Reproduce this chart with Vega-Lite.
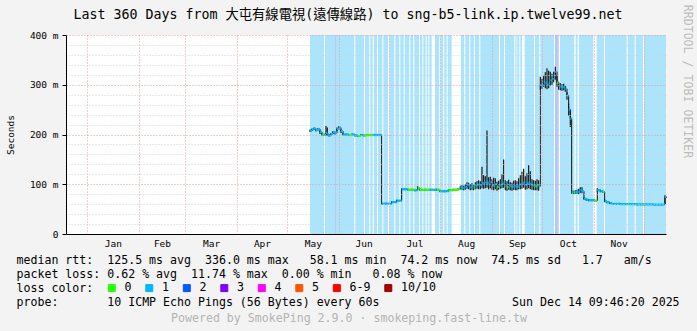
{
  "$schema": "https://vega.github.io/schema/vega-lite/v6.json",
  "autosize": {"type": "none"},
  "padding": {"left": 66, "top": 35, "right": 31, "bottom": 97},
  "width": 600,
  "height": 199,
  "background": "#f3f3f3",
  "title": {
    "text": "Last 360 Days from 大屯有線電視(遠傳線路) to sng-b5-link.ip.twelve99.net",
    "anchor": "middle", "frame": "group", "dx": -18, "dy": 32, "offset": 15,
    "font": "DejaVu Sans Mono, Noto Sans CJK TC", "fontSize": 13.3, "fontWeight": "normal", "color": "#000000"
  },
  "config": {
    "view": {"fill": "white", "stroke": null},
    "font": "DejaVu Sans Mono",
    "axis": {"labelFont": "DejaVu Sans Mono", "titleFont": "DejaVu Sans Mono"}
  },
  "datasets": {
    "lossbars": [
      {"start": 133.8, "end": 142.2, "level": "1"},
      {"start": 142.8, "end": 148.8, "level": "1"},
      {"start": 148.8, "end": 149.4, "level": "2"},
      {"start": 149.4, "end": 160.4, "level": "1"},
      {"start": 161.0, "end": 166.2, "level": "1"},
      {"start": 166.8, "end": 169.4, "level": "1"},
      {"start": 170.0, "end": 171.4, "level": "1"},
      {"start": 172.0, "end": 174.0, "level": "1"},
      {"start": 174.6, "end": 177.2, "level": "1"},
      {"start": 177.8, "end": 180.6, "level": "1"},
      {"start": 181.4, "end": 184.4, "level": "1"},
      {"start": 185.0, "end": 187.4, "level": "1"},
      {"start": 188.0, "end": 190.0, "level": "1"},
      {"start": 190.6, "end": 193.4, "level": "1"},
      {"start": 194.0, "end": 195.8, "level": "1"},
      {"start": 196.4, "end": 199.2, "level": "1"},
      {"start": 199.8, "end": 201.2, "level": "1"},
      {"start": 201.8, "end": 203.2, "level": "1"},
      {"start": 203.8, "end": 204.8, "level": "1"},
      {"start": 205.4, "end": 206.8, "level": "1"},
      {"start": 208.8, "end": 211.4, "level": "1"},
      {"start": 212.0, "end": 213.8, "level": "1"},
      {"start": 214.4, "end": 215.8, "level": "1"},
      {"start": 216.4, "end": 218.8, "level": "1"},
      {"start": 224.4, "end": 226.4, "level": "1"},
      {"start": 227.0, "end": 229.4, "level": "1"},
      {"start": 230.0, "end": 232.2, "level": "1"},
      {"start": 232.8, "end": 235.4, "level": "1"},
      {"start": 236.0, "end": 247.2, "level": "1"},
      {"start": 247.8, "end": 250.2, "level": "1"},
      {"start": 250.8, "end": 256.4, "level": "1"},
      {"start": 257.0, "end": 257.8, "level": "1"},
      {"start": 258.2, "end": 259.4, "level": "1"},
      {"start": 260.0, "end": 261.0, "level": "1"},
      {"start": 262.6, "end": 268.2, "level": "1"},
      {"start": 268.8, "end": 271.4, "level": "1"},
      {"start": 272.0, "end": 280.2, "level": "1"},
      {"start": 280.8, "end": 283.0, "level": "2"},
      {"start": 283.8, "end": 292.4, "level": "1"},
      {"start": 293.2, "end": 294.4, "level": "1"},
      {"start": 295.2, "end": 303.8, "level": "1"},
      {"start": 305.8, "end": 310.2, "level": "1"},
      {"start": 310.8, "end": 323.8, "level": "1"},
      {"start": 324.4, "end": 328.6, "level": "1"},
      {"start": 329.2, "end": 333.6, "level": "1"},
      {"start": 334.2, "end": 347.4, "level": "1"}
    ],
    "rtt": [
      {"d": 133.8, "med": 207, "lo": 205, "hi": 210, "loss": "1"},
      {"d": 135.0, "med": 210, "lo": 207, "hi": 212, "loss": "1"},
      {"d": 136.2, "med": 212, "lo": 209, "hi": 214, "loss": "1"},
      {"d": 137.4, "med": 209, "lo": 206, "hi": 211, "loss": "1"},
      {"d": 138.6, "med": 211, "lo": 208, "hi": 213, "loss": "1"},
      {"d": 139.8, "med": 205, "lo": 201, "hi": 208, "loss": "1"},
      {"d": 141.0, "med": 200, "lo": 197, "hi": 203, "loss": "0"},
      {"d": 142.2, "med": 199, "lo": 197, "hi": 202, "loss": "1"},
      {"d": 143.4, "med": 203, "lo": 199, "hi": 217, "loss": "1"},
      {"d": 144.2, "med": 201, "lo": 197, "hi": 214, "loss": "1"},
      {"d": 145.2, "med": 198, "lo": 196, "hi": 201, "loss": "1"},
      {"d": 146.4, "med": 201, "lo": 198, "hi": 203, "loss": "1"},
      {"d": 147.6, "med": 205, "lo": 202, "hi": 207, "loss": "1"},
      {"d": 148.8, "med": 203, "lo": 200, "hi": 206, "loss": "1"},
      {"d": 150.0, "med": 211, "lo": 207, "hi": 214, "loss": "1"},
      {"d": 151.2, "med": 214, "lo": 209, "hi": 217, "loss": "1"},
      {"d": 152.4, "med": 207, "lo": 203, "hi": 210, "loss": "1"},
      {"d": 153.6, "med": 200, "lo": 198, "hi": 203, "loss": "1"},
      {"d": 155.4, "med": 200, "lo": 198, "hi": 202, "loss": "1"},
      {"d": 157.2, "med": 199, "lo": 197, "hi": 201, "loss": "0"},
      {"d": 159.0, "med": 200, "lo": 198, "hi": 202, "loss": "1"},
      {"d": 160.8, "med": 198, "lo": 196, "hi": 200, "loss": "1"},
      {"d": 162.6, "med": 197, "lo": 195, "hi": 199, "loss": "0"},
      {"d": 164.4, "med": 199, "lo": 197, "hi": 201, "loss": "1"},
      {"d": 166.2, "med": 198, "lo": 196, "hi": 200, "loss": "0"},
      {"d": 168.0, "med": 199, "lo": 197, "hi": 201, "loss": "0"},
      {"d": 169.8, "med": 199, "lo": 197, "hi": 201, "loss": "0"},
      {"d": 171.6, "med": 199, "lo": 197, "hi": 201, "loss": "1"},
      {"d": 173.4, "med": 199, "lo": 197, "hi": 201, "loss": "1"},
      {"d": 176.8, "med": 61, "lo": 59, "hi": 63, "loss": "1"},
      {"d": 179.4, "med": 61, "lo": 59, "hi": 63, "loss": "1"},
      {"d": 182.8, "med": 64, "lo": 62, "hi": 66, "loss": "1"},
      {"d": 185.8, "med": 67, "lo": 65, "hi": 69, "loss": "1"},
      {"d": 188.8, "med": 90, "lo": 88, "hi": 92, "loss": "1"},
      {"d": 190.8, "med": 90, "lo": 88, "hi": 92, "loss": "1"},
      {"d": 192.6, "med": 89, "lo": 87, "hi": 91, "loss": "0"},
      {"d": 195.0, "med": 89, "lo": 87, "hi": 91, "loss": "0"},
      {"d": 196.8, "med": 88, "lo": 86, "hi": 90, "loss": "1"},
      {"d": 198.4, "med": 92, "lo": 89, "hi": 96, "loss": "0"},
      {"d": 199.8, "med": 89, "lo": 87, "hi": 91, "loss": "0"},
      {"d": 202.8, "med": 89, "lo": 87, "hi": 91, "loss": "0"},
      {"d": 205.8, "med": 89, "lo": 87, "hi": 91, "loss": "1"},
      {"d": 209.8, "med": 89, "lo": 87, "hi": 91, "loss": "0"},
      {"d": 211.8, "med": 86, "lo": 84, "hi": 88, "loss": "1"},
      {"d": 214.2, "med": 86, "lo": 84, "hi": 88, "loss": "1"},
      {"d": 216.8, "med": 88, "lo": 86, "hi": 90, "loss": "0"},
      {"d": 219.6, "med": 89, "lo": 87, "hi": 91, "loss": "0"},
      {"d": 222.6, "med": 90, "lo": 88, "hi": 92, "loss": "0"},
      {"d": 224, "med": 94, "lo": 90, "hi": 97, "loss": "1"},
      {"d": 225, "med": 93, "lo": 89, "hi": 98, "loss": "1"},
      {"d": 226, "med": 92, "lo": 88, "hi": 97, "loss": "1"},
      {"d": 227, "med": 95, "lo": 89, "hi": 100, "loss": "1"},
      {"d": 228, "med": 99, "lo": 91, "hi": 104, "loss": "1"},
      {"d": 229, "med": 97, "lo": 90, "hi": 103, "loss": "1"},
      {"d": 230, "med": 94, "lo": 88, "hi": 100, "loss": "1"},
      {"d": 231, "med": 96, "lo": 89, "hi": 102, "loss": "1"},
      {"d": 232, "med": 93, "lo": 88, "hi": 99, "loss": "0"},
      {"d": 233, "med": 97, "lo": 90, "hi": 104, "loss": "1"},
      {"d": 234, "med": 99, "lo": 91, "hi": 106, "loss": "1"},
      {"d": 235, "med": 100, "lo": 90, "hi": 108, "loss": "1"},
      {"d": 236, "med": 98, "lo": 90, "hi": 106, "loss": "1"},
      {"d": 237, "med": 102, "lo": 92, "hi": 135, "loss": "1"},
      {"d": 238, "med": 101, "lo": 91, "hi": 118, "loss": "1"},
      {"d": 239, "med": 104, "lo": 92, "hi": 116, "loss": "1"},
      {"d": 240, "med": 103, "lo": 93, "hi": 208, "loss": "1"},
      {"d": 241, "med": 100, "lo": 90, "hi": 114, "loss": "1"},
      {"d": 242, "med": 104, "lo": 92, "hi": 115, "loss": "1"},
      {"d": 243, "med": 98, "lo": 89, "hi": 110, "loss": "1"},
      {"d": 244, "med": 97, "lo": 88, "hi": 113, "loss": "1"},
      {"d": 245, "med": 100, "lo": 90, "hi": 112, "loss": "1"},
      {"d": 246, "med": 95, "lo": 87, "hi": 105, "loss": "0"},
      {"d": 247, "med": 97, "lo": 89, "hi": 107, "loss": "1"},
      {"d": 248, "med": 99, "lo": 91, "hi": 110, "loss": "1"},
      {"d": 249, "med": 101, "lo": 92, "hi": 120, "loss": "1"},
      {"d": 250, "med": 103, "lo": 93, "hi": 150, "loss": "1"},
      {"d": 251, "med": 96, "lo": 88, "hi": 108, "loss": "1"},
      {"d": 252, "med": 94, "lo": 87, "hi": 106, "loss": "0"},
      {"d": 253, "med": 98, "lo": 89, "hi": 109, "loss": "1"},
      {"d": 254, "med": 96, "lo": 88, "hi": 104, "loss": "1"},
      {"d": 255, "med": 95, "lo": 87, "hi": 103, "loss": "1"},
      {"d": 256, "med": 97, "lo": 89, "hi": 107, "loss": "1"},
      {"d": 257, "med": 96, "lo": 88, "hi": 108, "loss": "1"},
      {"d": 258, "med": 95, "lo": 88, "hi": 106, "loss": "1"},
      {"d": 259, "med": 98, "lo": 90, "hi": 112, "loss": "1"},
      {"d": 260, "med": 100, "lo": 90, "hi": 118, "loss": "1"},
      {"d": 261, "med": 102, "lo": 91, "hi": 125, "loss": "1"},
      {"d": 262, "med": 104, "lo": 93, "hi": 131, "loss": "1"},
      {"d": 263, "med": 99, "lo": 89, "hi": 116, "loss": "1"},
      {"d": 264, "med": 101, "lo": 90, "hi": 122, "loss": "1"},
      {"d": 265, "med": 103, "lo": 92, "hi": 138, "loss": "1"},
      {"d": 266, "med": 100, "lo": 90, "hi": 126, "loss": "1"},
      {"d": 267, "med": 98, "lo": 89, "hi": 110, "loss": "1"},
      {"d": 268, "med": 97, "lo": 88, "hi": 108, "loss": "1"},
      {"d": 269, "med": 96, "lo": 88, "hi": 107, "loss": "0"},
      {"d": 270, "med": 98, "lo": 88, "hi": 110, "loss": "1"},
      {"d": 271, "med": 96, "lo": 87, "hi": 108, "loss": "1"},
      {"d": 272, "med": 299, "lo": 290, "hi": 316, "loss": "1"},
      {"d": 273, "med": 300, "lo": 292, "hi": 312, "loss": "1"},
      {"d": 274, "med": 306, "lo": 296, "hi": 318, "loss": "1"},
      {"d": 275, "med": 303, "lo": 293, "hi": 325, "loss": "1"},
      {"d": 276, "med": 300, "lo": 291, "hi": 333, "loss": "1"},
      {"d": 277, "med": 304, "lo": 293, "hi": 328, "loss": "1"},
      {"d": 278, "med": 309, "lo": 298, "hi": 326, "loss": "1"},
      {"d": 279, "med": 312, "lo": 300, "hi": 322, "loss": "1"},
      {"d": 280, "med": 319, "lo": 305, "hi": 326, "loss": "1"},
      {"d": 281, "med": 326, "lo": 310, "hi": 336, "loss": "1"},
      {"d": 282, "med": 304, "lo": 296, "hi": 318, "loss": "0"},
      {"d": 283, "med": 298, "lo": 290, "hi": 306, "loss": "1"},
      {"d": 284, "med": 296, "lo": 289, "hi": 303, "loss": "1"},
      {"d": 285, "med": 295, "lo": 288, "hi": 301, "loss": "1"},
      {"d": 286, "med": 296, "lo": 289, "hi": 302, "loss": "1"},
      {"d": 287, "med": 292, "lo": 286, "hi": 298, "loss": "1"},
      {"d": 288, "med": 278, "lo": 270, "hi": 285, "loss": "1"},
      {"d": 289, "med": 250, "lo": 238, "hi": 262, "loss": "1"},
      {"d": 290, "med": 232, "lo": 215, "hi": 250, "loss": "1"},
      {"d": 290.8, "med": 84, "lo": 81, "hi": 88, "loss": "1"},
      {"d": 292, "med": 83, "lo": 80, "hi": 87, "loss": "0"},
      {"d": 293, "med": 84, "lo": 81, "hi": 88, "loss": "1"},
      {"d": 294, "med": 85, "lo": 81, "hi": 89, "loss": "1"},
      {"d": 295, "med": 84, "lo": 80, "hi": 91, "loss": "1"},
      {"d": 296, "med": 88, "lo": 83, "hi": 94, "loss": "1"},
      {"d": 297, "med": 86, "lo": 82, "hi": 94, "loss": "1"},
      {"d": 298.2, "med": 71, "lo": 69, "hi": 74, "loss": "1"},
      {"d": 299.5, "med": 69, "lo": 67, "hi": 71, "loss": "1"},
      {"d": 301, "med": 68, "lo": 66, "hi": 70, "loss": "1"},
      {"d": 303, "med": 68, "lo": 66, "hi": 70, "loss": "1"},
      {"d": 304.5, "med": 67, "lo": 65, "hi": 69, "loss": "0"},
      {"d": 306.2, "med": 88, "lo": 85, "hi": 92, "loss": "1"},
      {"d": 308, "med": 86, "lo": 84, "hi": 89, "loss": "1"},
      {"d": 309.6, "med": 85, "lo": 83, "hi": 87, "loss": "0"},
      {"d": 310.6, "med": 66, "lo": 64, "hi": 70, "loss": "1"},
      {"d": 312, "med": 64, "lo": 62, "hi": 66, "loss": "1"},
      {"d": 313.5, "med": 62, "lo": 60, "hi": 64, "loss": "1"},
      {"d": 315, "med": 60.5, "lo": 59, "hi": 62, "loss": "1"},
      {"d": 320, "med": 60, "lo": 58.5, "hi": 61.5, "loss": "1"},
      {"d": 324.6, "med": 60, "lo": 58.5, "hi": 61.5, "loss": "0"},
      {"d": 325.4, "med": 60, "lo": 58.5, "hi": 61.5, "loss": "1"},
      {"d": 330, "med": 59.5, "lo": 58, "hi": 61, "loss": "1"},
      {"d": 333.6, "med": 59.5, "lo": 58, "hi": 61, "loss": "0"},
      {"d": 334.4, "med": 59.5, "lo": 58, "hi": 61, "loss": "1"},
      {"d": 340, "med": 59, "lo": 58, "hi": 60.5, "loss": "1"},
      {"d": 346.4, "med": 60, "lo": 58.5, "hi": 61.5, "loss": "1"},
      {"d": 346.8, "med": 74, "lo": 60, "hi": 78, "loss": "1"},
      {"d": 347.41, "med": 74, "lo": 72, "hi": 76, "loss": "1"}
    ]
  },
  "resolve": {"scale": {"x": "independent", "y": "independent"}},
  "layer": [
    {
      "data": {"name": "lossbars"},
      "mark": {"type": "rect"},
      "encoding": {
        "x": {
          "field": "start", "type": "quantitative",
          "scale": {"domain": [-12.59, 347.41], "nice": false, "zero": false},
          "axis": {
            "orient": "bottom",
            "values": [15.5, 45, 74.5, 105, 135.5, 166, 196.5, 227.5, 258, 288.5, 319],
            "labelExpr": "timeFormat(datetime(2025, 0, 1 + floor(datum.value)), '%b')",
            "grid": false, "ticks": false, "labelPadding": 4, "labelFontSize": 9.5, "labelColor": "#000000",
            "labelFlush": false, "labelOverlap": false,
            "domainColor": "#000000", "domainWidth": 1,
            "title": [
              "median\u00a0rtt:\u00a0\u00a0125.5\u00a0ms\u00a0avg\u00a0\u00a0336.0\u00a0ms\u00a0max\u00a0\u00a0\u00a058.1\u00a0ms\u00a0min\u00a0\u00a074.2\u00a0ms\u00a0now\u00a0\u00a074.5\u00a0ms\u00a0sd\u00a0\u00a0\u00a01.7\u00a0\u00a0\u00a0am/s",
              "packet\u00a0loss:\u00a00.62\u00a0%\u00a0avg\u00a0\u00a011.74\u00a0%\u00a0max\u00a0\u00a00.00\u00a0%\u00a0min\u00a0\u00a0\u00a00.08\u00a0%\u00a0now",
              "loss\u00a0color:",
              "probe:\u00a0\u00a0\u00a0\u00a0\u00a0\u00a0\u00a010\u00a0ICMP\u00a0Echo\u00a0Pings\u00a0(56\u00a0Bytes)\u00a0every\u00a060s\u00a0\u00a0\u00a0\u00a0\u00a0\u00a0\u00a0\u00a0\u00a0\u00a0\u00a0\u00a0\u00a0\u00a0\u00a0\u00a0\u00a0\u00a0\u00a0Sun\u00a0Dec\u00a014\u00a009:46:20\u00a02025"
            ],
            "titleX": -50, "titleY": 20, "titleAlign": "left", "titleBaseline": "top",
            "titleFontSize": 11.6, "titleFontWeight": "normal", "titleLineHeight": 14, "titleColor": "#000000",
            "zindex": 1
          }
        },
        "x2": {"field": "end"},
        "y": {
          "datum": 0, "type": "quantitative",
          "scale": {"domain": [0, 400], "nice": false, "zero": false},
          "axis": {
            "orient": "left",
            "values": [0, 100, 200, 300, 400],
            "labelExpr": "datum.value == 0 ? '0' : datum.value + ' m'",
            "grid": true, "gridColor": "#e89a9a", "gridDash": [1, 2], "gridWidth": 1,
            "tickSize": 4, "tickColor": "#000000", "labelPadding": 4, "labelFontSize": 9.5, "labelColor": "#000000",
            "labelFlush": false, "labelOverlap": false,
            "domainColor": "#000000",
            "title": "Seconds", "titleX": -56, "titleY": 99.5, "titleAngle": -90,
            "titleAlign": "center", "titleBaseline": "middle", "titleFontSize": 9.5,
            "titleFontWeight": "normal", "titleColor": "#000000",
            "zindex": 1
          }
        },
        "y2": {"datum": 400},
        "fill": {
          "field": "level", "type": "nominal",
          "scale": {"domain": ["1", "2"], "range": ["#abe4fb", "#b5c8f9"]},
          "legend": null
        }
      }
    },
    {
      "data": {"name": "rtt"},
      "mark": {"type": "rule", "color": "#1a1a1a", "strokeWidth": 1.2},
      "encoding": {
        "x": {"field": "d", "type": "quantitative", "scale": {"domain": [-12.59, 347.41], "nice": false, "zero": false}, "axis": null},
        "y": {"field": "lo", "type": "quantitative", "scale": {"domain": [0, 400], "nice": false, "zero": false}, "axis": null},
        "y2": {"field": "hi"}
      }
    },
    {
      "data": {"name": "rtt"},
      "mark": {"type": "line", "interpolate": "step-after", "color": "#111111", "strokeWidth": 1},
      "encoding": {
        "x": {
          "field": "d", "type": "quantitative",
          "scale": {"domain": [-12.59, 347.41], "nice": false, "zero": false},
          "axis": {
            "orient": "top",
            "values": [0, 31, 59, 90, 120, 151, 181, 212, 243, 273, 304, 334],
            "labels": false, "ticks": false, "domain": false,
            "grid": true, "gridColor": "#e89a9a", "gridDash": [1, 2], "gridWidth": 1,
            "title": "Powered by SmokePing 2.9.0 · smokeping.fast-line.tw",
            "titleX": 282.5, "titleY": 283, "titleAlign": "center", "titleBaseline": "middle",
            "titleColor": "#b4b4b4", "titleFontSize": 11.6, "titleFontWeight": "normal",
            "zindex": 1
          }
        },
        "y": {
          "field": "med", "type": "quantitative",
          "scale": {"domain": [0, 400], "nice": false, "zero": false},
          "axis": {
            "orient": "right",
            "values": [20, 40, 60, 80, 120, 140, 160, 180, 220, 240, 260, 280, 320, 340, 360, 380],
            "labels": false, "ticks": false, "domain": false,
            "grid": true, "gridColor": "#d2d2d2", "gridDash": [1, 2], "gridWidth": 1,
            "title": "RRDTOOL / TOBI OETIKER", "titleAngle": 90, "titleX": 20, "titleY": 46,
            "titleAlign": "center", "titleBaseline": "middle", "titleColor": "#bcbcbc",
            "titleFontSize": 11.6, "titleFontWeight": "normal",
            "zindex": 1
          }
        }
      }
    },
    {
      "data": {"name": "rtt"},
      "transform": [
        {"window": [{"op": "lead", "field": "d", "as": "d2"}], "sort": [{"field": "d", "order": "ascending"}]},
        {"filter": "datum.d2 != null"}
      ],
      "mark": {"type": "rule", "strokeWidth": 2.2, "strokeCap": "butt"},
      "encoding": {
        "x": {"field": "d", "type": "quantitative", "scale": {"domain": [-12.59, 347.41], "nice": false, "zero": false}, "axis": null},
        "x2": {"field": "d2"},
        "y": {"field": "med", "type": "quantitative", "scale": {"domain": [0, 400], "nice": false, "zero": false}, "axis": null},
        "color": {
          "field": "loss", "type": "nominal",
          "scale": {
            "domain": ["0", "1", "2", "3", "4", "5", "6-9", "10/10"],
            "range": ["#26ff00", "#00b8ff", "#0059ff", "#7e00ff", "#ff00ff", "#ff5500", "#ff0000", "#a10000"]
          },
          "legend": {
            "orient": "none", "legendX": 40, "legendY": 247,
            "direction": "horizontal", "columns": 8, "title": null,
            "symbolType": "square", "symbolSize": 49, "symbolStrokeWidth": 1, "symbolStrokeColor": "#000000",
            "labelFont": "DejaVu Sans Mono", "labelFontSize": 11.6, "labelColor": "#000000",
            "labelOffset": 7, "columnPadding": 11.5, "padding": 0, "rowPadding": 0,
            "encode": {
              "symbols": {
                "update": {
                  "fill": {"scale": "color", "field": "value"},
                  "stroke": {"value": "#000000"},
                  "strokeWidth": {"value": 1},
                  "opacity": {"value": 1},
                  "fillOpacity": {"value": 1}
                }
              }
            }
          }
        }
      }
    }
  ]
}
